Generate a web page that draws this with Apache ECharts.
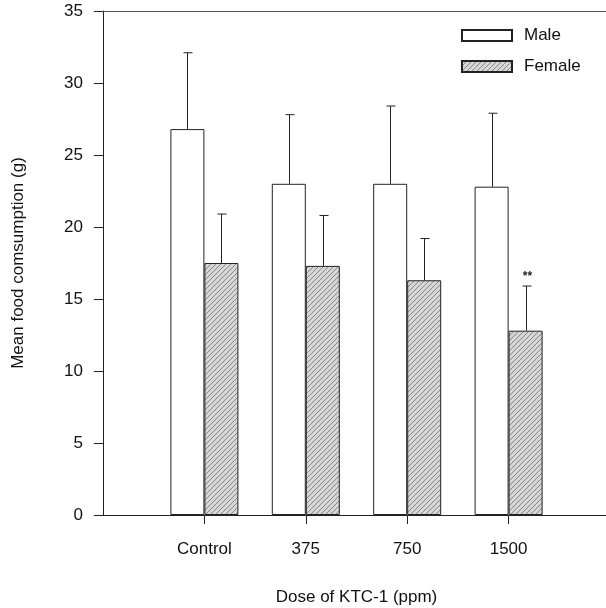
<!DOCTYPE html>
<html>
<head>
<meta charset="utf-8">
<script src="https://cdn.jsdelivr.net/npm/echarts@6/dist/echarts.min.js"></script>
<style>
  html, body { margin: 0; padding: 0; background: #fff; }
  #chart { width: 606px; height: 608px; }
</style>
</head>
<body>
<div id="chart"></div>
<script>
// dose groups and readings (g)
var categories = ['Control', '375', '750', '1500'];
var maleMean = [26.8, 23.0, 23.0, 22.8];
var maleUpper = [32.1, 27.8, 28.4, 27.9];   // mean + SD
var femaleMean = [17.5, 17.3, 16.3, 12.8];
var femaleUpper = [20.9, 20.8, 19.2, 15.9];
var femaleSig = ['', '', '', '**'];
var yTicks = [0, 5, 10, 15, 20, 25, 30, 35];

// axis has an empty slot on each side so the groups sit like the original
var axisCats = [''].concat(categories, ['']);
function pad(arr) { return ['-'].concat(arr, ['-']); }

// hatch fill for the female bars
var pat = document.createElement('canvas');
pat.width = 5; pat.height = 5;
var c = pat.getContext('2d');
c.fillStyle = '#d6d6d6';
c.fillRect(0, 0, 5, 5);
c.strokeStyle = '#888';
c.lineWidth = 1;
c.beginPath();
c.moveTo(0, 5); c.lineTo(5, 0);
c.moveTo(-1, 1); c.lineTo(1, -1);
c.moveTo(4, 6); c.lineTo(6, 4);
c.stroke();

var BAR_W = 34;

function errData(upper, mean, sig) {
  return upper.map(function (u, i) { return [i + 1, mean[i], u, sig ? sig[i] : '']; });
}

function errRender(offset) {
  return function (params, api) {
    var base = api.coord([api.value(0), api.value(1)]);
    var top = api.coord([api.value(0), api.value(2)]);
    var x = Math.round(base[0] + offset) + 0.5;
    var children = [
      { type: 'line', shape: { x1: x, y1: base[1], x2: x, y2: top[1] }, style: { stroke: '#222', lineWidth: 1 } },
      { type: 'line', shape: { x1: x - 4, y1: top[1], x2: x + 5, y2: top[1] }, style: { stroke: '#222', lineWidth: 1 } }
    ];
    var s = api.value(3);
    if (s && s !== '-') {
      children.push({ type: 'text', style: { text: s, x: x + 1, y: top[1] - 3, align: 'center', verticalAlign: 'bottom', font: 'bold 12px Liberation Sans, Arial', fill: '#222' } });
    }
    return { type: 'group', children: children };
  };
}

var myChart = echarts.init(document.getElementById('chart'));
myChart.setOption({
  animation: false,
  textStyle: { fontFamily: 'Liberation Sans, Arial, sans-serif' },
  grid: { left: 103, width: 507, top: 11, height: 504, outerBoundsMode: 'none', containLabel: false },
  legend: {
    data: ['Male', 'Female'],
    orient: 'vertical',
    left: 456,
    top: 22,
    padding: 5,
    icon: 'rect',
    itemWidth: 50,
    itemHeight: 11,
    itemGap: 14,
    textStyle: { fontSize: 17, color: '#111', padding: [0, 0, 0, 7] }
  },
  xAxis: [{
    type: 'category',
    data: axisCats,
    boundaryGap: false,
    name: 'Dose of KTC-1 (ppm)',
    nameLocation: 'middle',
    nameGap: 74,
    nameTextStyle: { fontSize: 17, color: '#111' },
    axisLine: { lineStyle: { color: '#222', width: 1 } },
    axisTick: {
      length: 9,
      lineStyle: { color: '#222' },
      interval: function (i) { return i >= 1 && i <= categories.length; }
    },
    axisLabel: { fontSize: 17, color: '#111', margin: 26, interval: 0 },
    splitLine: { show: false }
  }, {
    type: 'category',
    data: axisCats,
    position: 'top',
    axisLine: { lineStyle: { color: '#555', width: 1 } },
    axisTick: { show: false },
    axisLabel: { show: false }
  }],
  yAxis: {
    type: 'value',
    min: yTicks[0],
    max: yTicks[yTicks.length - 1],
    interval: 5,
    name: 'Mean food comsumption (g)',
    nameLocation: 'middle',
    nameGap: 76,
    nameTextStyle: { fontSize: 17, color: '#111' },
    axisLine: { show: true, lineStyle: { color: '#222', width: 1 } },
    axisTick: { show: true, length: 9, lineStyle: { color: '#222' } },
    axisLabel: { fontSize: 17, color: '#111', margin: 20 },
    splitLine: { show: false }
  },
  series: [{
    name: 'Male',
    type: 'bar',
    data: pad(maleMean),
    barWidth: BAR_W,
    barGap: '0%',
    itemStyle: { color: '#fff', borderColor: '#222', borderWidth: 1 },
    z: 2
  }, {
    name: 'Female',
    type: 'bar',
    data: pad(femaleMean),
    barWidth: BAR_W,
    barGap: '0%',
    itemStyle: { color: { image: pat, repeat: 'repeat' }, borderColor: '#222', borderWidth: 1 },
    z: 2
  }, {
    name: 'maleErr',
    type: 'custom',
    data: errData(maleUpper, maleMean),
    encode: { x: 0, y: 2 },
    renderItem: errRender(-BAR_W / 2),
    z: 3
  }, {
    name: 'femaleErr',
    type: 'custom',
    data: errData(femaleUpper, femaleMean, femaleSig),
    encode: { x: 0, y: 2 },
    renderItem: errRender(BAR_W / 2),
    z: 3
  }]
});
window.onresize = myChart.resize;
</script>
</body>
</html>
